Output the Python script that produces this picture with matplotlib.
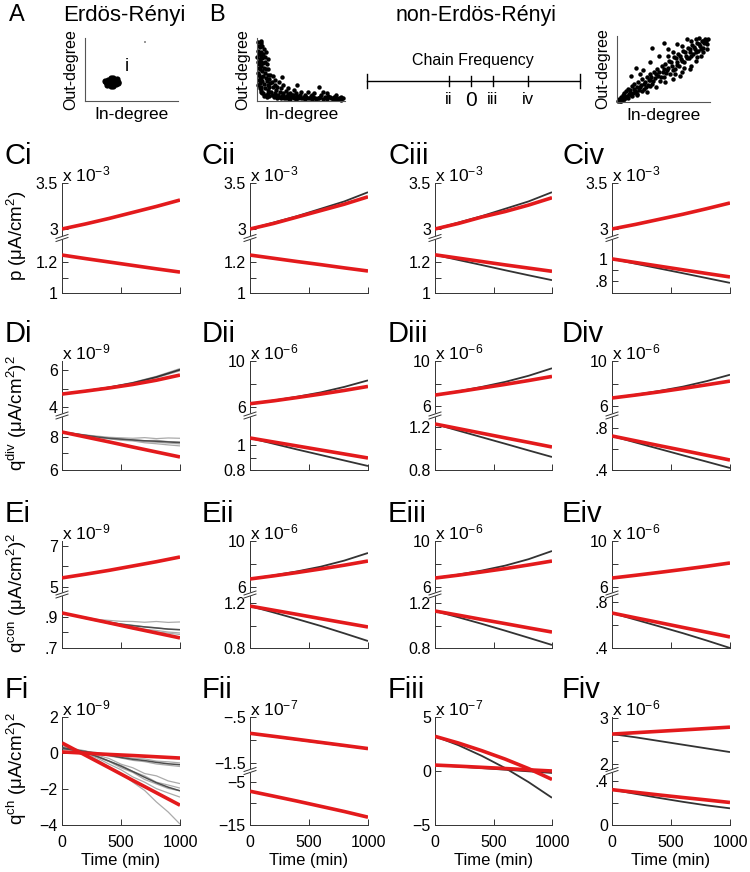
import matplotlib
matplotlib.use('Agg')
import matplotlib.pyplot as plt
from matplotlib.lines import Line2D

plt.rcParams['font.family'] = ['Liberation Sans', 'DejaVu Sans']
plt.rcParams['mathtext.fontset'] = 'custom'
plt.rcParams['mathtext.rm'] = 'Liberation Sans'
plt.rcParams['mathtext.it'] = 'Liberation Sans:italic'
plt.rcParams['mathtext.bf'] = 'Liberation Sans:bold'

W, H = 750, 872

# ---------------- data ----------------
# degree scatter clouds (normalised in/out degree)
er_pts = [(0.29, 0.30), (0.26, 0.30), (0.32, 0.30), (0.29, 0.26), (0.29, 0.34), (0.25, 0.27),
          (0.33, 0.33), (0.25, 0.33), (0.33, 0.27), (0.27, 0.28), (0.31, 0.32), (0.27, 0.32),
          (0.31, 0.28), (0.23, 0.30), (0.35, 0.30), (0.28, 0.24), (0.30, 0.36), (0.24, 0.25),
          (0.34, 0.35), (0.22, 0.31), (0.36, 0.29), (0.30, 0.24), (0.28, 0.36)]
neg_pts = [(0.01, 0.93), (0.02, 0.88), (0.01, 0.80), (0.03, 0.85), (0.02, 0.74), (0.04, 0.78),
           (0.03, 0.66), (0.05, 0.72), (0.02, 0.58), (0.04, 0.62), (0.06, 0.68), (0.03, 0.50),
           (0.05, 0.55), (0.07, 0.60), (0.02, 0.42), (0.06, 0.47), (0.08, 0.52), (0.04, 0.36),
           (0.07, 0.40), (0.09, 0.45), (0.03, 0.28), (0.06, 0.32), (0.10, 0.37), (0.05, 0.22),
           (0.08, 0.27), (0.11, 0.31), (0.04, 0.15), (0.09, 0.20), (0.12, 0.25), (0.07, 0.12),
           (0.13, 0.18), (0.15, 0.28), (0.10, 0.10), (0.16, 0.15), (0.18, 0.22), (0.14, 0.08),
           (0.20, 0.12), (0.22, 0.18), (0.19, 0.06), (0.24, 0.10), (0.26, 0.15), (0.23, 0.05),
           (0.28, 0.08), (0.30, 0.13), (0.27, 0.04), (0.32, 0.07), (0.35, 0.11), (0.33, 0.04),
           (0.37, 0.06), (0.40, 0.09), (0.38, 0.03), (0.42, 0.05), (0.45, 0.08), (0.44, 0.03),
           (0.48, 0.06), (0.50, 0.04), (0.53, 0.07), (0.55, 0.03), (0.58, 0.05), (0.61, 0.08),
           (0.63, 0.03), (0.66, 0.05), (0.69, 0.04), (0.72, 0.07), (0.75, 0.03), (0.78, 0.05),
           (0.81, 0.08), (0.84, 0.04), (0.87, 0.06), (0.90, 0.03), (0.93, 0.05), (0.96, 0.02),
           (0.98, 0.04), (0.12, 0.50), (0.18, 0.40), (0.25, 0.30), (0.30, 0.25), (0.35, 0.20),
           (0.42, 0.18), (0.50, 0.15), (0.58, 0.14), (0.70, 0.22), (0.80, 0.12), (0.62, 0.10),
           (0.20, 0.33), (0.15, 0.42), (0.09, 0.62), (0.05, 0.95), (0.10, 0.78), (0.13, 0.66),
           (0.28, 0.38), (0.46, 0.25), (0.00, 0.70), (0.01, 0.62), (0.02, 0.52), (0.01, 0.45),
           (0.03, 0.38), (0.02, 0.33), (0.01, 0.25), (0.03, 0.20), (0.05, 0.17), (0.06, 0.12),
           (0.08, 0.08), (0.11, 0.06), (0.12, 0.13), (0.14, 0.22), (0.17, 0.10), (0.21, 0.08),
           (0.25, 0.06), (0.29, 0.10), (0.31, 0.05), (0.34, 0.08), (0.36, 0.03), (0.39, 0.06),
           (0.41, 0.10), (0.43, 0.07), (0.47, 0.04), (0.49, 0.09), (0.52, 0.05), (0.56, 0.06),
           (0.60, 0.04), (0.64, 0.07), (0.67, 0.03), (0.71, 0.05), (0.73, 0.10), (0.77, 0.07),
           (0.80, 0.03), (0.83, 0.06), (0.86, 0.03), (0.89, 0.07), (0.92, 0.03), (0.95, 0.06),
           (0.06, 0.88), (0.08, 0.82), (0.04, 0.92), (0.07, 0.74), (0.09, 0.70), (0.11, 0.58),
           (0.10, 0.50), (0.12, 0.42), (0.14, 0.35), (0.17, 0.30), (0.21, 0.26), (0.23, 0.23),
           (0.27, 0.20), (0.33, 0.16), (0.38, 0.13), (0.44, 0.12), (0.55, 0.10), (0.65, 0.12),
           (0.75, 0.14), (0.90, 0.10)]
pos_pts = [(0.01, 0.02), (0.03, 0.01), (0.02, 0.05), (0.05, 0.03), (0.04, 0.08), (0.07, 0.05),
           (0.06, 0.10), (0.09, 0.07), (0.08, 0.13), (0.11, 0.09), (0.10, 0.16), (0.13, 0.12),
           (0.12, 0.20), (0.15, 0.10), (0.14, 0.18), (0.17, 0.14), (0.16, 0.24), (0.19, 0.17),
           (0.18, 0.28), (0.21, 0.12), (0.22, 0.22), (0.24, 0.18), (0.23, 0.30), (0.26, 0.25),
           (0.27, 0.35), (0.29, 0.20), (0.30, 0.30), (0.32, 0.38), (0.33, 0.26), (0.35, 0.42),
           (0.36, 0.33), (0.38, 0.28), (0.40, 0.45), (0.41, 0.36), (0.43, 0.50), (0.44, 0.40),
           (0.46, 0.32), (0.48, 0.55), (0.49, 0.45), (0.51, 0.38), (0.52, 0.58), (0.54, 0.48),
           (0.56, 0.62), (0.57, 0.42), (0.59, 0.55), (0.61, 0.68), (0.62, 0.50), (0.64, 0.60),
           (0.66, 0.72), (0.67, 0.55), (0.69, 0.65), (0.71, 0.78), (0.72, 0.60), (0.74, 0.70),
           (0.76, 0.82), (0.77, 0.66), (0.79, 0.75), (0.81, 0.86), (0.82, 0.72), (0.84, 0.80),
           (0.86, 0.90), (0.87, 0.77), (0.89, 0.85), (0.91, 0.93), (0.92, 0.82), (0.94, 0.90),
           (0.95, 0.95), (0.97, 0.88), (0.20, 0.52), (0.28, 0.48), (0.35, 0.60), (0.45, 0.70),
           (0.55, 0.80), (0.60, 0.35), (0.70, 0.45), (0.80, 0.55), (0.85, 0.62), (0.90, 0.70),
           (0.38, 0.82), (0.50, 0.90), (0.65, 0.88), (0.75, 0.95), (0.15, 0.40), (0.25, 0.42),
           (0.32, 0.15), (0.42, 0.22), (0.52, 0.30), (0.68, 0.40), (0.78, 0.50), (0.93, 0.75),
           (0.88, 0.97), (0.97, 0.80), (0.02, 0.03), (0.04, 0.02), (0.06, 0.06), (0.08, 0.04),
           (0.10, 0.08), (0.12, 0.06), (0.14, 0.13), (0.16, 0.09), (0.18, 0.20), (0.20, 0.15),
           (0.22, 0.10), (0.25, 0.22), (0.27, 0.16), (0.29, 0.28), (0.31, 0.22), (0.34, 0.33),
           (0.35, 0.24), (0.37, 0.38), (0.39, 0.32), (0.42, 0.42), (0.45, 0.46), (0.47, 0.38),
           (0.50, 0.50), (0.53, 0.44), (0.55, 0.52), (0.58, 0.60), (0.60, 0.48), (0.63, 0.66),
           (0.65, 0.56), (0.68, 0.70), (0.70, 0.62), (0.73, 0.76), (0.75, 0.66), (0.78, 0.80),
           (0.80, 0.70), (0.83, 0.84), (0.85, 0.75), (0.88, 0.88), (0.90, 0.80), (0.93, 0.92),
           (0.96, 0.93), (0.98, 0.96), (0.60, 0.75), (0.70, 0.85), (0.80, 0.92), (0.85, 0.95),
           (0.55, 0.70), (0.62, 0.42), (0.72, 0.52), (0.86, 0.68)]

chain_ticks = [-1.0, 0.0, 1.0, 2.6]
chain_labels = ['ii', '0', 'iii', 'iv']

t6 = [0, 200, 400, 600, 800, 1000]
t11 = [0, 100, 200, 300, 400, 500, 600, 700, 800, 900, 1000]

# row C : p
ci_hi_red = [3.00, 3.055, 3.115, 3.18, 3.245, 3.315]
ci_lo_red = [1.245, 1.222, 1.200, 1.178, 1.156, 1.135]
cii_hi_sim = [3.00, 3.07, 3.14, 3.22, 3.30, 3.40]
cii_hi_red = [3.00, 3.06, 3.13, 3.20, 3.27, 3.35]
cii_lo_red = [1.245, 1.224, 1.203, 1.183, 1.162, 1.142]
ciii_hi_sim = [3.00, 3.07, 3.14, 3.22, 3.30, 3.40]
ciii_hi_red = [3.00, 3.06, 3.13, 3.19, 3.26, 3.34]
ciii_lo_sim = [1.25, 1.216, 1.183, 1.149, 1.116, 1.084]
ciii_lo_red = [1.25, 1.228, 1.206, 1.184, 1.163, 1.142]
civ_hi_red = [3.00, 3.05, 3.105, 3.16, 3.22, 3.283]
civ_lo_sim = [1.0, 0.956, 0.913, 0.87, 0.826, 0.782]
civ_lo_red = [1.0, 0.967, 0.934, 0.901, 0.868, 0.836]

# row D : q div
di_hi_runs = [[4.70, 4.88, 5.08, 5.33, 5.66, 6.08],
              [4.70, 4.86, 5.04, 5.28, 5.58, 5.96]]
di_hi_sim = [4.70, 4.87, 5.06, 5.30, 5.62, 6.02]
di_hi_red = [4.70, 4.86, 5.03, 5.22, 5.45, 5.73]
di_lo_runs = [[8.30, 8.22, 8.12, 8.05, 7.98, 7.95, 7.92, 7.96, 7.90, 7.94, 7.92],
              [8.30, 8.20, 8.10, 7.98, 7.92, 7.85, 7.83, 7.77, 7.80, 7.72, 7.70],
              [8.30, 8.21, 8.08, 8.01, 7.90, 7.88, 7.79, 7.71, 7.68, 7.63, 7.58],
              [8.30, 8.19, 8.10, 7.96, 7.89, 7.80, 7.76, 7.65, 7.59, 7.52, 7.46]]
di_lo_sim = [8.30, 8.20, 8.10, 8.00, 7.92, 7.87, 7.82, 7.77, 7.74, 7.70, 7.66]
di_lo_red = [8.30, 8.00, 7.70, 7.39, 7.09, 6.79]
dii_hi_sim = [6.27, 6.55, 6.88, 7.26, 7.74, 8.31]
dii_hi_red = [6.27, 6.52, 6.81, 7.11, 7.43, 7.78]
dii_lo_sim = [1.056, 1.010, 0.964, 0.920, 0.876, 0.832]
dii_lo_red = [1.056, 1.024, 0.992, 0.960, 0.928, 0.896]
diii_hi_sim = [7.0, 7.33, 7.72, 8.16, 8.70, 9.36]
diii_hi_red = [7.0, 7.30, 7.62, 7.94, 8.28, 8.64]
diii_lo_sim = [1.228, 1.166, 1.105, 1.044, 0.982, 0.921]
diii_lo_red = [1.228, 1.185, 1.142, 1.099, 1.057, 1.014]
div_hi_sim = [6.74, 7.03, 7.36, 7.74, 8.22, 8.79]
div_hi_red = [6.74, 7.00, 7.28, 7.58, 7.90, 8.23]
div_lo_sim = [0.724, 0.662, 0.601, 0.540, 0.480, 0.419]
div_lo_red = [0.724, 0.678, 0.632, 0.587, 0.541, 0.495]

# row E : q con
ei_hi_red = [5.44, 5.62, 5.81, 6.02, 6.23, 6.46]
ei_lo_runs = [[0.926, 0.912, 0.898, 0.884, 0.878, 0.872, 0.871, 0.866, 0.871, 0.865, 0.868],
              [0.926, 0.910, 0.894, 0.878, 0.867, 0.855, 0.847, 0.837, 0.831, 0.821, 0.818],
              [0.926, 0.908, 0.890, 0.873, 0.861, 0.845, 0.835, 0.821, 0.813, 0.803, 0.797],
              [0.926, 0.909, 0.892, 0.876, 0.857, 0.843, 0.825, 0.816, 0.803, 0.796, 0.787]]
ei_lo_sim = [0.926, 0.910, 0.894, 0.878, 0.866, 0.854, 0.844, 0.836, 0.829, 0.822, 0.818]
ei_lo_red = [0.926, 0.894, 0.862, 0.829, 0.797, 0.765]
eii_hi_sim = [6.70, 7.01, 7.36, 7.77, 8.30, 8.96]
eii_hi_red = [6.70, 6.97, 7.26, 7.57, 7.90, 8.26]
eii_lo_sim = [1.173, 1.116, 1.057, 0.996, 0.930, 0.862]
eii_lo_red = [1.173, 1.136, 1.099, 1.061, 1.024, 0.987]
eiii_hi_sim = [6.78, 7.08, 7.43, 7.86, 8.42, 9.13]
eiii_hi_red = [6.78, 7.03, 7.31, 7.60, 7.92, 8.26]
eiii_lo_sim = [1.129, 1.073, 1.015, 0.954, 0.891, 0.827]
eiii_lo_red = [1.129, 1.092, 1.054, 1.017, 0.979, 0.942]
eiv_hi_red = [6.78, 7.02, 7.27, 7.53, 7.80, 8.09]
eiv_lo_sim = [0.704, 0.646, 0.588, 0.529, 0.466, 0.400]
eiv_lo_red = [0.704, 0.662, 0.621, 0.579, 0.538, 0.496]

# row F : q ch
fi_runs = [[0.30, 0.21, 0.10, 0.02, -0.10, -0.18, -0.30, -0.33, -0.45, -0.49, -0.55],
           [0.20, 0.16, 0.04, -0.05, -0.17, -0.28, -0.41, -0.48, -0.61, -0.68, -0.75],
           [0.40, 0.23, 0.12, -0.12, -0.31, -0.62, -0.82, -1.14, -1.27, -1.55, -1.70],
           [0.30, 0.22, -0.01, -0.18, -0.47, -0.68, -1.02, -1.27, -1.62, -1.78, -1.95],
           [0.35, 0.18, 0.06, -0.22, -0.48, -0.82, -1.08, -1.47, -1.72, -1.97, -2.10],
           [0.25, 0.16, -0.06, -0.28, -0.62, -0.93, -1.33, -1.62, -1.98, -2.22, -2.45],
           [0.30, 0.12, -0.11, -0.38, -0.77, -1.13, -1.62, -2.08, -2.72, -3.28, -3.95]]
fi_sims = [[0.25, 0.18, 0.08, -0.03, -0.13, -0.25, -0.35, -0.42, -0.52, -0.60, -0.65],
           [0.30, 0.17, 0.02, -0.20, -0.45, -0.73, -1.03, -1.35, -1.65, -1.90, -2.10]]
fi_red_a = [0.56, -0.13, -0.82, -1.52, -2.21, -2.90]
fi_red_b = [0.06, -0.01, -0.08, -0.14, -0.21, -0.28]
fii_hi_sim = [-0.856, -0.925, -0.995, -1.062, -1.128, -1.190]
fii_hi_red = [-0.856, -0.921, -0.987, -1.054, -1.121, -1.189]
fii_lo_red = [-7.22, -8.35, -9.50, -10.70, -11.90, -13.20]
fiii_sim_a = [3.21, 2.39, 1.40, 0.27, -1.03, -2.48]
fiii_red_a = [3.21, 2.59, 1.88, 1.10, 0.22, -0.78]
fiii_sim_b = [0.55, 0.41, 0.27, 0.12, -0.03, -0.18]
fiii_red_b = [0.55, 0.45, 0.34, 0.23, 0.11, 0.00]
fiv_hi_sim = [2.65, 2.58, 2.50, 2.42, 2.34, 2.26]
fiv_hi_red = [2.65, 2.68, 2.71, 2.74, 2.77, 2.80]
fiv_lo_sim = [0.32, 0.282, 0.245, 0.21, 0.178, 0.151]
fiv_lo_red = [0.32, 0.296, 0.272, 0.249, 0.227, 0.204]

# ---------------- layout ----------------
COLS = [(62, 180), (250, 368), (435, 552), (612, 730)]
ROWS = [(183, 293), (361, 470), (541, 648), (717, 825)]
LABEL_X = [5, 202, 388, 562]
STY = {'red': dict(color='#e31a1c', lw=2.6, zorder=5),
       'sim': dict(color='#333333', lw=1.3, zorder=4),
       'dark': dict(color='#4d4d4d', lw=1.1, zorder=3),
       'gray': dict(color='#ababab', lw=0.9, zorder=2)}


def runs(t, ys, kind):
    return [(t, y, kind) for y in ys]


def half(lim, ticks, labels, lines):
    return dict(lim=lim, ticks=ticks, labels=labels, lines=lines)


panels = [
    ('Ci', 0, 0, '-3',
     half((2.902, 3.5), [3, 3.5], ['3', '3.5'], [(t6, ci_hi_red, 'red')]),
     half((1.0, 1.355), [1, 1.1, 1.2], ['1', '', '1.2'], [(t6, ci_lo_red, 'red')])),
    ('Cii', 1, 0, '-3',
     half((2.902, 3.5), [3, 3.5], ['3', '3.5'], [(t6, cii_hi_sim, 'sim'), (t6, cii_hi_red, 'red')]),
     half((1.0, 1.355), [1, 1.1, 1.2], ['1', '', '1.2'], [(t6, cii_lo_red, 'red')])),
    ('Ciii', 2, 0, '-3',
     half((2.902, 3.5), [3, 3.5], ['3', '3.5'], [(t6, ciii_hi_sim, 'sim'), (t6, ciii_hi_red, 'red')]),
     half((1.0, 1.36), [1, 1.1, 1.2], ['1', '', '1.2'], [(t6, ciii_lo_sim, 'sim'), (t6, ciii_lo_red, 'red')])),
    ('Civ', 3, 0, '-3',
     half((2.902, 3.5), [3, 3.5], ['3', '3.5'], [(t6, civ_hi_red, 'red')]),
     half((0.69, 1.19), [0.8, 0.9, 1.0], ['.8', '', '1'], [(t6, civ_lo_sim, 'sim'), (t6, civ_lo_red, 'red')])),
    ('Di', 0, 1, '-9',
     half((3.54, 6.49), [4, 5, 6], ['4', '', '6'],
          runs(t6, di_hi_runs, 'gray') + [(t6, di_hi_sim, 'sim'), (t6, di_hi_red, 'red')]),
     half((6.0, 9.3), [6, 7, 8], ['6', '', '8'],
          runs(t11, di_lo_runs, 'gray') + [(t11, di_lo_sim, 'dark'), (t6, di_lo_red, 'red')])),
    ('Dii', 1, 1, '-6',
     half((5.24, 10.0), [6, 8, 10], ['6', '', '10'], [(t6, dii_hi_sim, 'sim'), (t6, dii_hi_red, 'red')]),
     half((0.8, 1.236), [0.8, 0.9, 1.0], ['0.8', '', '1'], [(t6, dii_lo_sim, 'sim'), (t6, dii_lo_red, 'red')])),
    ('Diii', 2, 1, '-6',
     half((5.2, 10.0), [6, 8, 10], ['6', '', '10'], [(t6, diii_hi_sim, 'sim'), (t6, diii_hi_red, 'red')]),
     half((0.8, 1.307), [0.8, 1.0, 1.2], ['0.8', '', '1.2'], [(t6, diii_lo_sim, 'sim'), (t6, diii_lo_red, 'red')])),
    ('Div', 3, 1, '-6',
     half((5.2, 10.0), [6, 8, 10], ['6', '', '10'], [(t6, div_hi_sim, 'sim'), (t6, div_hi_red, 'red')]),
     half((0.4, 0.919), [0.4, 0.6, 0.8], ['.4', '', '.8'], [(t6, div_lo_sim, 'sim'), (t6, div_lo_red, 'red')])),
    ('Ei', 0, 2, '-9',
     half((4.63, 7.24), [5, 6, 7], ['5', '', '7'], [(t6, ei_hi_red, 'red')]),
     half((0.7, 1.045), [0.7, 0.8, 0.9], ['.7', '', '.9'],
          runs(t11, ei_lo_runs, 'gray') + [(t11, ei_lo_sim, 'dark'), (t6, ei_lo_red, 'red')])),
    ('Eii', 1, 2, '-6',
     half((5.35, 10.0), [6, 8, 10], ['6', '', '10'], [(t6, eii_hi_sim, 'sim'), (t6, eii_hi_red, 'red')]),
     half((0.8, 1.276), [0.8, 1.0, 1.2], ['0.8', '', '1.2'], [(t6, eii_lo_sim, 'sim'), (t6, eii_lo_red, 'red')])),
    ('Eiii', 2, 2, '-6',
     half((5.35, 10.0), [6, 8, 10], ['6', '', '10'], [(t6, eiii_hi_sim, 'sim'), (t6, eiii_hi_red, 'red')]),
     half((0.8, 1.276), [0.8, 1.0, 1.2], ['0.8', '', '1.2'], [(t6, eiii_lo_sim, 'sim'), (t6, eiii_lo_red, 'red')])),
    ('Eiv', 3, 2, '-6',
     half((5.35, 10.0), [6, 8, 10], ['6', '', '10'], [(t6, eiv_hi_red, 'red')]),
     half((0.4, 0.865), [0.4, 0.6, 0.8], ['.4', '', '.8'], [(t6, eiv_lo_sim, 'sim'), (t6, eiv_lo_red, 'red')])),
    ('Fi', 0, 3, '-9', None,
     half((-4, 2), [-4, -2, 0, 2], ['\u22124', '\u22122', '0', '2'],
          runs(t11, fi_runs, 'gray') + runs(t11, fi_sims, 'dark')
          + [(t6, fi_red_a, 'red'), (t6, fi_red_b, 'red')])),
    ('Fii', 1, 3, '-7',
     half((-1.678, -0.5), [-1.5, -1.0, -0.5], ['\u22121.5', '', '\u2212.5'],
          [(t6, fii_hi_sim, 'sim'), (t6, fii_hi_red, 'red')]),
     half((-15, -2.56), [-15, -10, -5], ['\u221215', '', '\u22125'], [(t6, fii_lo_red, 'red')])),
    ('Fiii', 2, 3, '-7', None,
     half((-5, 5), [-5, 0, 5], ['\u22125', '0', '5'],
          [(t6, fiii_sim_a, 'sim'), (t6, fiii_sim_b, 'sim'), (t6, fiii_red_a, 'red'), (t6, fiii_red_b, 'red')])),
    ('Fiv', 3, 3, '-6',
     half((1.85, 3.02), [2, 2.5, 3], ['2', '', '3'], [(t6, fiv_hi_sim, 'sim'), (t6, fiv_hi_red, 'red')]),
     half((0, 0.489), [0, 0.2, 0.4], ['0', '', '.4'], [(t6, fiv_lo_sim, 'sim'), (t6, fiv_lo_red, 'red')])),
]

ylabels = [(236, 'p (\u03bcA/cm$^2$)'),
           (413, 'q$^{\\mathrm{div}}$ (\u03bcA/cm$^2$)$^2$'),
           (593, 'q$^{\\mathrm{con}}$ (\u03bcA/cm$^2$)$^2$'),
           (769, 'q$^{\\mathrm{ch}}$ (\u03bcA/cm$^2$)$^2$')]

fig = plt.figure(figsize=(W / 100, H / 100), dpi=100)


def px_axes(x0, y0, x1, y1):
    return fig.add_axes([x0 / W, 1 - y1 / H, (x1 - x0) / W, (y1 - y0) / H])


def fig_line(xs, ys, **kw):
    fig.add_artist(Line2D([x / W for x in xs], [1 - y / H for y in ys],
                          transform=fig.transFigure, **kw))


def fig_text(x, y, s, **kw):
    fig.text(x / W, 1 - y / H, s, **kw)


def degree_axes(box, pts, ms, marker):
    ax = px_axes(*box)
    xs, ys = zip(*pts)
    ax.plot(xs, ys, marker, ms=ms, mew=0, color='black', ls='none', clip_on=False)
    ax.set_xlim(0, 1)
    ax.set_ylim(0, 1)
    ax.set_xticks([])
    ax.set_yticks([])
    for s in ['top', 'right']:
        ax.spines[s].set_visible(False)
    for s in ['left', 'bottom']:
        ax.spines[s].set_color('#555555')
        ax.spines[s].set_linewidth(0.8)
    ax.set_xlabel('In-degree', fontsize=12.5, labelpad=4)
    ax.set_ylabel('Out-degree', fontsize=11.5, labelpad=5)
    ax.patch.set_alpha(0)
    return ax


def setup(ax, spec, bottom, xlab):
    for t, y, kind in spec['lines']:
        ax.plot(t, y, solid_capstyle='butt', **STY[kind])
    ax.set_xlim(0, 1000)
    ax.set_ylim(*spec['lim'])
    ax.set_yticks(spec['ticks'])
    ax.set_yticklabels(spec['labels'])
    for s in ['top', 'right']:
        ax.spines[s].set_visible(False)
    for s in ['left', 'bottom']:
        ax.spines[s].set_linewidth(0.7)
        ax.spines[s].set_color('#333333')
    ax.tick_params(direction='in', length=4, width=0.7, labelsize=11.5, pad=3, color='#333333')
    if bottom:
        ax.set_xticks([0, 500, 1000])
        ax.tick_params(axis='x', pad=7)
        if xlab:
            ax.set_xticklabels(['0', '500', '1000'])
            ax.set_xlabel('Time (min)', fontsize=12, labelpad=2)
        else:
            ax.set_xticklabels([])
    else:
        ax.spines['bottom'].set_visible(False)
        ax.tick_params(axis='x', bottom=False, labelbottom=False)
    ax.patch.set_alpha(0)


def break_mark(x, y):
    fig_line([x - 6, x + 6], [y + 2, y - 2], color='white', lw=2.4, zorder=10)
    fig_line([x - 6, x + 6], [y + 3.5, y - 0.5], color='#333333', lw=0.7, zorder=11)
    fig_line([x - 6, x + 6], [y + 0.5, y - 3.5], color='#333333', lw=0.7, zorder=11)


# ---- top row: degree distributions and chain frequency axis ----
fig_text(9, 15, 'A', fontsize=17, va='center')
fig_text(63, 15, 'Erdös-Rényi', fontsize=16, va='center')
fig_text(209, 15, 'B', fontsize=17, va='center')
fig_text(396, 15, 'non-Erdös-Rényi', fontsize=15.5, va='center')

axA = degree_axes((85, 38, 178, 101), er_pts, 4.5, 'o')
axA.plot([0.64], [0.94], 's', ms=1.5, mew=0, color='#999999')
axA.text(0.45, 0.55, 'i', fontsize=13, ha='center', va='center', transform=axA.transAxes)
degree_axes((257, 38, 345, 101), neg_pts, 3.2, 'o')
degree_axes((617, 36, 710, 102), pos_pts, 3.2, 'o')

cx0, cx1, cy = 367, 580, 81
fig_line([cx0, cx1], [cy, cy], color='black', lw=1)
for x in [cx0, cx1]:
    fig_line([x, x], [cy - 7, cy + 7], color='black', lw=1)
for v, lab in zip(chain_ticks, chain_labels):
    x = 471 + v * 22
    fig_line([x, x], [cy - 5, cy + 5], color='black', lw=1)
    fig_text(x, 100, lab, fontsize=15 if lab == '0' else 12, ha='center', va='center')
fig_text(473, 60, 'Chain Frequency', fontsize=11.5, ha='center', va='center')

# ---- time courses ----
for name, col, row, exp, hi, lo in panels:
    x0, x1 = COLS[col]
    top, bot = ROWS[row]
    mid = (top + bot) / 2
    last = row == 3
    if hi is None:
        setup(px_axes(x0, top, x1, bot), lo, True, last)
    else:
        setup(px_axes(x0, top, x1, mid), hi, False, last)
        setup(px_axes(x0, mid, x1, bot), lo, True, last)
        break_mark(x0, mid)
    fig_text(LABEL_X[col], top - 27, name, fontsize=21, va='center')
    fig_text(x0, top - 9, 'x 10$^{' + exp + '}$', fontsize=12.5, va='center')

for y, lab in ylabels:
    fig_text(17, y, lab, rotation=90, fontsize=13.5, ha='center', va='center')

fig.savefig('out.png', dpi=100)
